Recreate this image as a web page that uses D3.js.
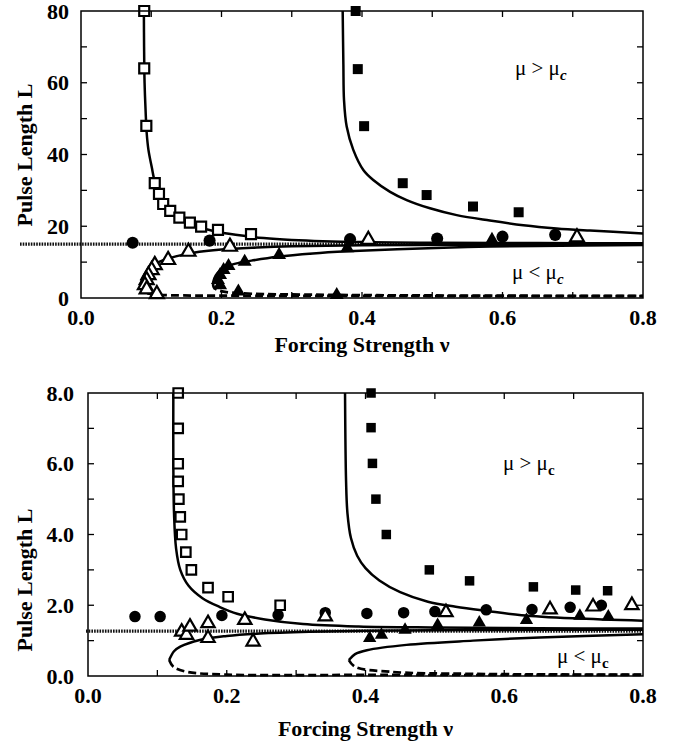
<!DOCTYPE html>
<html>
<head>
<meta charset="utf-8">
<script src="https://cdn.jsdelivr.net/npm/d3@7"></script>
<style>
  html, body { margin: 0; padding: 0; background: #fff; }
  svg { display: block; }
</style>
</head>
<body>
<svg id="chart" width="681" height="741"></svg>
<script>
// ---------- data: upper panel (L up to 80) ----------
const topYTicks = [0, 20, 40, 60, 80];
const topYTickLabels = ["0", "20", "40", "60", "80"];
const xTicks = [0, 0.2, 0.4, 0.6, 0.8];
const xTickLabels = ["0.0", "0.2", "0.4", "0.6", "0.8"];
const topLStar = 15;

const topOpenSquares = [[0.09,80],[0.09,64],[0.093,48],[0.105,32],[0.111,29],[0.117,26.2],[0.127,24.3],[0.14,22.4],[0.155,21],[0.171,19.9],[0.195,19],[0.242,17.8]];
const topFilledSquares = [[0.391,80],[0.394,63.8],[0.403,47.9],[0.458,32],[0.492,28.7],[0.558,25.5],[0.623,23.9]];
const topFilledCircles = [[0.0735,15.4],[0.183,16],[0.383,16.4],[0.507,16.6],[0.6,17.1],[0.675,17.6]];
const topOpenTriangles = [[0.212,14.3],[0.153,12.9],[0.124,10.6],[0.105,9.2],[0.1006,7.8],[0.096,6.4],[0.0935,5.0],[0.091,3.6],[0.0935,2.4],[0.108,1.1],[0.409,16.2],[0.706,16.9]];
const topFilledTriangles = [[0.198,3.6],[0.195,5.0],[0.198,6.4],[0.203,7.8],[0.21,8.9],[0.233,10.1],[0.224,1.8],[0.282,12.0],[0.379,13.9],[0.364,0.84],[0.585,16.2]];

const topCurveA = [[0.0895,80],[0.0898,70],[0.0905,60],[0.092,52],[0.0935,46],[0.096,41.3],[0.1006,36.6],[0.105,32.5],[0.112,29],[0.12,26.2],[0.13,24],[0.145,21.8],[0.165,20],[0.19,18.6],[0.22,17.6],[0.26,16.7],[0.3,16.2],[0.4,15.6],[0.5,15.4],[0.65,15.3],[0.8,15.25]];
const topCurveB = [[0.3725,80],[0.3735,65],[0.3744,55.2],[0.3782,47.8],[0.3876,41.3],[0.4019,35.7],[0.416,32.9],[0.44,29.6],[0.4636,27.3],[0.4968,25],[0.5348,23.1],[0.582,21.6],[0.6297,20.3],[0.677,19.4],[0.7246,18.8],[0.8,18.0]];
const topTriUpper = [[0.085,3.8],[0.087,5.2],[0.091,6.8],[0.097,8.3],[0.105,9.5],[0.118,10.6],[0.135,11.6],[0.16,12.6],[0.2,13.5],[0.25,14.05],[0.3,14.4],[0.4,14.7],[0.55,14.85],[0.8,14.9]];
const topTriLower = [[0.085,3.8],[0.086,2.6],[0.09,1.7],[0.097,1.2],[0.108,0.9],[0.13,0.75],[0.2,0.65],[0.3,0.6],[0.5,0.55],[0.8,0.5]];
const topFTriUpper = [[0.188,4.2],[0.19,5.6],[0.194,6.9],[0.2,8.0],[0.21,9.0],[0.225,9.8],[0.245,10.5],[0.28,11.5],[0.33,12.4],[0.38,13.0],[0.45,13.6],[0.55,14.2],[0.65,14.5],[0.8,14.75]];
const topFTriLower = [[0.188,4.2],[0.189,3.0],[0.195,2.2],[0.205,1.7],[0.225,1.35],[0.26,1.1],[0.32,0.95],[0.4,0.8],[0.6,0.65],[0.8,0.6]];

// ---------- data: lower panel (L up to 8) ----------
const botYTicks = [0, 2, 4, 6, 8];
const botYTickLabels = ["0.0", "2.0", "4.0", "6.0", "8.0"];
const botLStar = 1.27;

const botOpenSquares = [[0.13,8.0],[0.13,7.0],[0.13,6.0],[0.13,5.5],[0.131,5.0],[0.133,4.5],[0.135,4.0],[0.141,3.5],[0.149,3.0],[0.173,2.5],[0.202,2.24],[0.277,2.0]];
const botFilledSquares = [[0.408,8.0],[0.408,7.02],[0.41,6.01],[0.415,5.0],[0.43,4.0],[0.492,3.0],[0.55,2.69],[0.642,2.52],[0.703,2.43],[0.749,2.41]];
const botFilledCircles = [[0.0677,1.68],[0.104,1.68],[0.193,1.71],[0.274,1.72],[0.342,1.79],[0.402,1.77],[0.455,1.79],[0.5,1.82],[0.574,1.87],[0.64,1.88],[0.695,1.94],[0.74,2.0]];
const botOpenTriangles = [[0.135,1.25],[0.142,1.16],[0.147,1.39],[0.173,1.49],[0.173,1.07],[0.226,1.58],[0.238,0.97],[0.342,1.68],[0.516,1.8],[0.666,1.88],[0.728,1.96],[0.784,2.0]];
const botFilledTriangles = [[0.406,1.07],[0.423,1.16],[0.457,1.3],[0.504,1.44],[0.564,1.51],[0.632,1.58],[0.709,1.7],[0.75,1.68]];

const botCurveA = [[0.123,8],[0.123,6],[0.124,4.6],[0.127,3.6],[0.133,3.0],[0.145,2.55],[0.165,2.2],[0.19,1.95],[0.215,1.76],[0.255,1.6],[0.31,1.47],[0.39,1.4],[0.5,1.37],[0.65,1.35],[0.8,1.34]];
const botCurveB = [[0.3705,8],[0.372,5.5],[0.374,4.6],[0.379,3.9],[0.388,3.4],[0.4,3.05],[0.42,2.7],[0.45,2.37],[0.49,2.1],[0.53,1.96],[0.575,1.84],[0.625,1.72],[0.7,1.63],[0.8,1.56]];
const botTriUpper = [[0.117,0.45],[0.124,0.7],[0.133,0.83],[0.161,1.02],[0.2,1.13],[0.248,1.2],[0.32,1.25],[0.4,1.28],[0.55,1.3],[0.8,1.31]];
const botTriLower = [[0.117,0.45],[0.123,0.26],[0.142,0.12],[0.2,0.04],[0.4,0.03],[0.8,0.03]];
const botFTriUpper = [[0.376,0.45],[0.385,0.62],[0.402,0.73],[0.459,0.88],[0.555,1.0],[0.651,1.09],[0.8,1.18]];
const botFTriLower = [[0.376,0.45],[0.385,0.26],[0.435,0.12],[0.555,0.06],[0.8,0.04]];

// ---------- drawing ----------
const FONT = "'Liberation Serif', 'Times New Roman', Times, serif";
const svg = d3.select("#chart");
svg.append("rect").attr("width", 681).attr("height", 741).attr("fill", "#fff");

function drawPanel(p) {
  const x = d3.scaleLinear().domain([0, 0.8]).range([p.left, p.right]);
  const y = d3.scaleLinear().domain([0, p.yMax]).range([p.bottom, p.top]);
  const g = svg.append("g").attr("font-family", FONT);

  // reference level L*
  g.append("line")
    .attr("x1", p.dotStart).attr("x2", x(0.8))
    .attr("y1", y(p.lStar)).attr("y2", y(p.lStar))
    .attr("stroke", "#111").attr("stroke-width", 3.2)
    .attr("stroke-dasharray", "1.6,1.1");

  const line = d3.line().x(d => x(d[0])).y(d => y(d[1])).curve(d3.curveCatmullRom.alpha(0.5));
  const solid = (data) => g.append("path").datum(data).attr("d", line)
    .attr("fill", "none").attr("stroke", "#000").attr("stroke-width", 2.5);
  const dashed = (data) => g.append("path").datum(data).attr("d", line)
    .attr("fill", "none").attr("stroke", "#000").attr("stroke-width", 2.7)
    .attr("stroke-dasharray", "8,4");

  p.solids.forEach(solid);
  p.dashes.forEach(dashed);

  // markers
  const ms = p.markerSize;
  const sq = d3.symbol().type(d3.symbolSquare).size(ms * ms);
  const tri = d3.symbol().type(d3.symbolTriangle).size(ms * ms * 0.85);
  const circ = d3.symbol().type(d3.symbolCircle).size(ms * ms * 1.15);
  const tr = d => `translate(${x(d[0])},${y(d[1])})`;
  const mark = (data, sym, filled, sw) => g.append("g").selectAll("path").data(data).join("path")
    .attr("d", sym).attr("transform", tr)
    .attr("fill", filled ? "#000" : "#fff")
    .attr("stroke", "#000").attr("stroke-width", sw);

  mark(p.filledCircles, circ, true, 0);
  mark(p.filledSquares, sq, true, 0);
  mark(p.filledTriangles, tri, true, 0);
  mark(p.openSquares, sq, false, 2.2);
  mark(p.openTriangles, tri, false, 2.2);

  // frame
  g.append("rect").attr("x", p.left).attr("y", p.top)
    .attr("width", p.right - p.left).attr("height", p.bottom - p.top)
    .attr("fill", "none").attr("stroke", "#000").attr("stroke-width", 1.5);

  // inward ticks on all four sides
  const tk = 6;
  const xMinor = d3.range(1, 8).map(i => i / 10);
  const yMinor = d3.range(1, p.yMax / p.yStep).map(i => i * p.yStep);
  xMinor.forEach(v => {
    g.append("line").attr("x1", x(v)).attr("x2", x(v)).attr("y1", p.bottom).attr("y2", p.bottom - tk).attr("stroke", "#000").attr("stroke-width", 1.3);
    g.append("line").attr("x1", x(v)).attr("x2", x(v)).attr("y1", p.top).attr("y2", p.top + tk).attr("stroke", "#000").attr("stroke-width", 1.3);
  });
  yMinor.forEach(v => {
    g.append("line").attr("x1", p.left).attr("x2", p.left + tk).attr("y1", y(v)).attr("y2", y(v)).attr("stroke", "#000").attr("stroke-width", 1.3);
    g.append("line").attr("x1", p.right).attr("x2", p.right - tk).attr("y1", y(v)).attr("y2", y(v)).attr("stroke", "#000").attr("stroke-width", 1.3);
  });

  // tick labels
  g.selectAll(".xl").data(xTicks).join("text")
    .attr("x", d => x(d)).attr("y", p.xLabelY)
    .attr("text-anchor", "middle").attr("font-size", p.tickFont).attr("font-weight", "bold")
    .text((d, i) => xTickLabels[i]);
  g.selectAll(".yl").data(p.yTicks).join("text")
    .attr("x", p.yLabelX).attr("y", d => y(d)).attr("dy", "0.35em")
    .attr("text-anchor", "end").attr("font-size", p.tickFont).attr("font-weight", "bold")
    .text((d, i) => p.yTickLabels[i]);

  // axis titles
  g.append("text").attr("x", (p.left + p.right) / 2).attr("y", p.xTitleY)
    .attr("text-anchor", "middle").attr("font-size", 22).attr("font-weight", "bold")
    .text("Forcing Strength \u03BD");
  g.append("text").attr("transform", `translate(${p.yTitleX},${p.yTitleY}) rotate(-90)`)
    .attr("text-anchor", "middle").attr("font-size", 22).attr("font-weight", "bold")
    .text("Pulse Length L");

  // regime annotations
  const note = (tx, ty, op) => {
    const t = g.append("text").attr("x", tx).attr("y", ty).attr("font-size", 21);
    t.append("tspan").text("\u03BC " + op + " \u03BC");
    t.append("tspan").attr("dy", 5).attr("font-size", 15).attr("font-weight", "bold")
      .attr("font-style", p.italicC ? "italic" : "normal").text("c");
  };
  note(p.noteAbove[0], p.noteAbove[1], ">");
  note(p.noteBelow[0], p.noteBelow[1], "<");
}

drawPanel({
  left: 81, right: 643, top: 11, bottom: 298, yMax: 80, yStep: 10,
  yTicks: topYTicks, yTickLabels: topYTickLabels, lStar: topLStar, dotStart: 20,
  xLabelY: 325, yLabelX: 69, xTitleY: 352, yTitleX: 32, yTitleY: 155, tickFont: 22,
  markerSize: 10, italicC: true,
  noteAbove: [515, 75], noteBelow: [512, 279],
  openSquares: topOpenSquares, filledSquares: topFilledSquares, filledCircles: topFilledCircles,
  openTriangles: topOpenTriangles, filledTriangles: topFilledTriangles,
  solids: [topCurveA, topCurveB, topTriUpper, topFTriUpper],
  dashes: [topTriLower, topFTriLower]
});

drawPanel({
  left: 88, right: 643, top: 393, bottom: 676, yMax: 8, yStep: 1,
  yTicks: botYTicks, yTickLabels: botYTickLabels, lStar: botLStar, dotStart: 86,
  xLabelY: 703, yLabelX: 74, xTitleY: 736, yTitleX: 32, yTitleY: 580, tickFont: 22,
  markerSize: 9.5, italicC: false,
  noteAbove: [503, 470], noteBelow: [557, 663],
  openSquares: botOpenSquares, filledSquares: botFilledSquares, filledCircles: botFilledCircles,
  openTriangles: botOpenTriangles, filledTriangles: botFilledTriangles,
  solids: [botCurveA, botCurveB, botTriUpper, botFTriUpper],
  dashes: [botTriLower, botFTriLower]
});
</script>
</body>
</html>
